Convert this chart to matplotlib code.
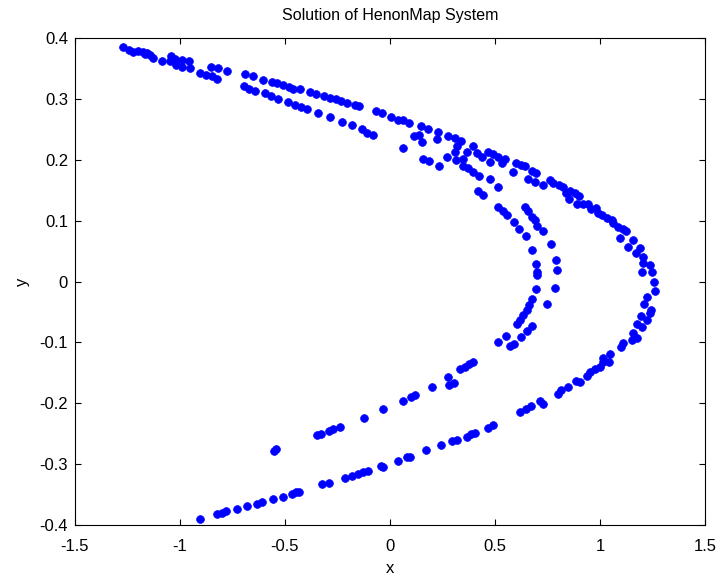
import matplotlib
matplotlib.use("Agg")
import matplotlib.pyplot as plt

plt.rcParams['font.family'] = ['Liberation Sans', 'DejaVu Sans']

# Upper (outer) strand of the attractor, left to right
upper_x = [-1.273, -1.241, -1.222, -1.199, -1.178, -1.159, -1.167, -1.143, -1.130, -1.087,
           -1.044, -1.048, -1.024, -1.019, -0.992, -0.992, -0.956, -0.952, -0.905, -0.876,
           -0.854, -0.849, -0.822, -0.818, -0.778, -0.692, -0.654, -0.695, -0.670, -0.643,
           -0.603, -0.563, -0.537, -0.508, -0.480, -0.463, -0.429, -0.381, -0.352, -0.314,
           -0.286, -0.257, -0.235, -0.206, -0.167, -0.146, -0.067, -0.040, 0.006, 0.040,
           -0.595, -0.568, -0.532, -0.484, -0.452, -0.425, -0.397, -0.341, -0.286, -0.230,
           -0.182, -0.135, -0.108, -0.080]
upper_y = [0.385, 0.381, 0.377, 0.379, 0.377, 0.375, 0.373, 0.372, 0.367, 0.363,
           0.370, 0.362, 0.366, 0.356, 0.364, 0.352, 0.363, 0.350, 0.343, 0.340,
           0.352, 0.337, 0.333, 0.351, 0.346, 0.341, 0.337, 0.321, 0.317, 0.313,
           0.331, 0.328, 0.326, 0.322, 0.320, 0.317, 0.317, 0.311, 0.308, 0.305,
           0.301, 0.299, 0.297, 0.294, 0.290, 0.288, 0.280, 0.276, 0.271, 0.266,
           0.309, 0.304, 0.299, 0.295, 0.290, 0.287, 0.283, 0.277, 0.270, 0.262,
           0.257, 0.250, 0.244, 0.241]

# Crossing region where the strands meet
mid_x = [0.063, 0.092, 0.146, 0.182, 0.114, 0.140, 0.152, 0.230, 0.222, 0.278,
         0.310, 0.337, 0.320, 0.310, 0.270, 0.314, 0.349, 0.365, 0.394, 0.413,
         0.437, 0.468, 0.492, 0.516, 0.548, 0.476, 0.532, 0.349, 0.373, 0.394,
         0.422, 0.063, 0.159, 0.187, 0.235, 0.476, 0.516, 0.420, 0.441, 0.600,
         0.622, 0.643, 0.587, 0.675, 0.695, 0.659, 0.690]
mid_y = [0.265, 0.260, 0.255, 0.251, 0.239, 0.241, 0.229, 0.246, 0.234, 0.239,
         0.235, 0.231, 0.223, 0.212, 0.205, 0.200, 0.202, 0.213, 0.223, 0.211,
         0.205, 0.212, 0.209, 0.205, 0.202, 0.197, 0.194, 0.190, 0.186, 0.180,
         0.174, 0.219, 0.202, 0.198, 0.189, 0.168, 0.156, 0.149, 0.142, 0.194,
         0.191, 0.189, 0.180, 0.182, 0.178, 0.168, 0.164]

# Outer branch around the right-hand tip and down the lower side
outer_x = [0.730, 0.762, 0.778, 0.806, 0.825, 0.838, 0.857, 0.881, 0.901, 0.854,
           0.889, 0.920, 0.944, 0.956, 0.981, 0.992, 1.008, 1.032, 1.056, 1.063,
           1.087, 1.111, 1.124, 1.095, 1.156, 1.135, 1.190, 1.171, 1.206, 1.206,
           1.238, 1.199, 1.246, 1.257, 1.263, 1.222, 1.210, 1.243, 1.238, 1.194,
           1.222, 1.175, 1.199, 1.156, 1.175, 1.151, 1.111, 1.099, 1.048, 1.016,
           1.044, 1.016, 1.000, 0.976, 0.952, 0.937, 0.905, 0.886, 0.849, 0.813,
           0.801, 0.727, 0.714, 0.670, 0.648, 0.619, 0.492, 0.468, 0.405, 0.384,
           0.365, 0.320, 0.294, 0.243, 0.171, 0.095, 0.080, 0.040, -0.032, -0.043,
           -0.103, -0.130, -0.151, -0.182, -0.214, -0.290, -0.325, -0.432, -0.448, -0.468,
           -0.511, -0.559, -0.611, -0.635, -0.682, -0.730, -0.781, -0.801, -0.825, -0.905]
outer_y = [0.159, 0.166, 0.161, 0.159, 0.155, 0.145, 0.149, 0.145, 0.140, 0.135,
           0.128, 0.127, 0.128, 0.119, 0.120, 0.113, 0.109, 0.104, 0.101, 0.096,
           0.090, 0.087, 0.083, 0.071, 0.068, 0.056, 0.055, 0.047, 0.041, 0.030,
           0.027, 0.016, 0.016, 0.000, -0.015, -0.025, -0.037, -0.046, -0.052, -0.057,
           -0.063, -0.070, -0.075, -0.085, -0.092, -0.096, -0.101, -0.108, -0.119, -0.126,
           -0.132, -0.133, -0.140, -0.144, -0.148, -0.155, -0.165, -0.163, -0.173, -0.178,
           -0.184, -0.201, -0.197, -0.205, -0.210, -0.215, -0.236, -0.241, -0.249, -0.251,
           -0.255, -0.260, -0.262, -0.269, -0.276, -0.288, -0.289, -0.295, -0.305, -0.303,
           -0.311, -0.313, -0.316, -0.320, -0.323, -0.331, -0.333, -0.345, -0.346, -0.349,
           -0.354, -0.357, -0.362, -0.366, -0.369, -0.373, -0.377, -0.380, -0.382, -0.390]

# Inner branch
inner_x = [0.516, 0.540, 0.559, 0.590, 0.614, 0.643, 0.659, 0.675, 0.690, 0.701,
           0.730, 0.648, 0.765, 0.675, 0.790, 0.797, 0.695, 0.701, 0.701, 0.695,
           0.786, 0.675, 0.663, 0.749, 0.651, 0.635, 0.619, 0.606, 0.675, 0.654,
           0.624, 0.551, 0.516, 0.590, 0.571, 0.397, 0.378, 0.357, 0.333, 0.305,
           0.282, 0.278, 0.200, 0.119, 0.099, 0.063, -0.032, -0.122, -0.238, -0.270,
           -0.289, -0.330, -0.349, -0.551, -0.545]
inner_y = [0.122, 0.116, 0.109, 0.098, 0.087, 0.122, 0.115, 0.106, 0.101, 0.091,
           0.083, 0.074, 0.062, 0.052, 0.035, 0.019, 0.029, 0.016, 0.011, -0.013,
           -0.011, -0.029, -0.039, -0.037, -0.047, -0.055, -0.063, -0.069, -0.073, -0.082,
           -0.091, -0.090, -0.099, -0.102, -0.106, -0.133, -0.136, -0.140, -0.144, -0.167,
           -0.170, -0.157, -0.173, -0.186, -0.189, -0.196, -0.210, -0.225, -0.239, -0.243,
           -0.245, -0.251, -0.252, -0.278, -0.275]

x_ticks = [-1.5, -1, -0.5, 0, 0.5, 1, 1.5]
x_tick_labels = ['-1.5', '-1', '-0.5', '0', '0.5', '1', '1.5']
y_ticks = [-0.4, -0.3, -0.2, -0.1, 0, 0.1, 0.2, 0.3, 0.4]
y_tick_labels = ['-0.4', '-0.3', '-0.2', '-0.1', '0', '0.1', '0.2', '0.3', '0.4']

fig = plt.figure(figsize=(7.19, 5.80), dpi=100)
ax = fig.add_axes([0.1043, 0.0948, 0.8762, 0.8397])

for xs, ys in [(upper_x, upper_y), (mid_x, mid_y), (outer_x, outer_y), (inner_x, inner_y)]:
    ax.plot(xs, ys, linestyle='none', marker='o', markersize=5.6,
            markerfacecolor='#0000ff', markeredgecolor='#0000ff', markeredgewidth=0.5)

ax.set_xlim(-1.5, 1.5)
ax.set_ylim(-0.4, 0.4)
ax.set_xticks(x_ticks)
ax.set_xticklabels(x_tick_labels)
ax.set_yticks(y_ticks)
ax.set_yticklabels(y_tick_labels)
ax.tick_params(direction='in', length=4, width=0.8, top=True, right=True,
               labelsize=12, colors='black')
ax.tick_params(axis='x', pad=10)
ax.tick_params(axis='y', pad=5)
for s in ax.spines.values():
    s.set_linewidth(0.8)

ax.set_title('Solution of HenonMap System', fontsize=11.5, pad=13)
ax.set_xlabel('x', fontsize=12, labelpad=5)
ax.set_ylabel('y', fontsize=12, labelpad=7)

fig.savefig('out.png', dpi=100)
